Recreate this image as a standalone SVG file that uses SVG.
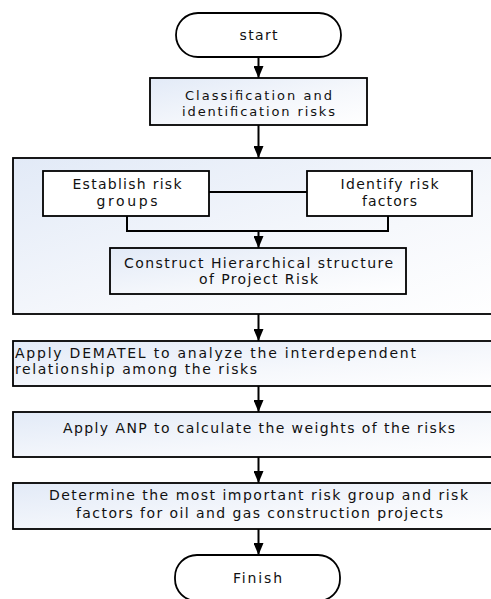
<svg xmlns="http://www.w3.org/2000/svg" width="491" height="599" viewBox="0 0 491 599">
<defs>
<linearGradient id="g" x1="0" y1="0" x2="1" y2="1">
<stop offset="0" stop-color="#e2eaf7"/>
<stop offset="0.6" stop-color="#f6f8fc"/>
<stop offset="1" stop-color="#ffffff"/>
</linearGradient>
<marker id="ah" markerWidth="12" markerHeight="10" refX="12" refY="5" orient="auto" markerUnits="userSpaceOnUse">
<path d="M0,0 L12,5 L0,10 Z" fill="#000"/>
</marker>
</defs>
<style>
.b{fill:url(#g);stroke:#000;stroke-width:1.8}
.w{fill:#fff;stroke:#000;stroke-width:1.8}
.c{fill:none;stroke:#000;stroke-width:2}
.a{fill:none;stroke:#000;stroke-width:2;marker-end:url(#ah)}
text{font-family:"DejaVu Sans","Liberation Sans",sans-serif;font-size:14px;fill:#111}
.m{text-anchor:middle}
.s{font-size:13px}
</style>
<g id="outer"><rect class="b" x="13" y="158" width="500" height="156"/></g>
<g id="start"><rect class="w" x="176" y="13" width="165" height="44" rx="22"/><text class="m" x="258.5" y="40" textLength="38">start</text></g>
<g id="classify"><rect class="b" x="150" y="78" width="217" height="47"/><text class="m s" x="258.5" y="100" textLength="147">Classification and</text><text class="m s" x="258.5" y="116" textLength="153">identification risks</text></g>
<g id="establish"><rect class="w" x="43" y="171" width="166" height="45"/><text class="m" x="127" y="189" textLength="109">Establish risk</text><text class="m" x="127" y="206" textLength="61">groups</text></g>
<g id="identify"><rect class="w" x="307" y="171" width="165" height="45"/><text class="m" x="389.5" y="189" textLength="98">Identify risk</text><text class="m" x="389.5" y="206" textLength="55">factors</text></g>
<g id="construct"><rect class="b" x="110" y="248" width="296" height="46"/><text class="m" x="258.5" y="268" textLength="269">Construct Hierarchical structure</text><text class="m" x="258.5" y="284" textLength="119">of Project Risk</text></g>
<g id="dematel"><rect class="b" x="13" y="341" width="500" height="45"/><text x="15" y="358" textLength="401">Apply DEMATEL to analyze the interdependent</text><text x="15" y="374" textLength="242">relationship among the risks</text></g>
<g id="anp"><rect class="b" x="13" y="412" width="500" height="45"/><text class="m" x="259" y="433" textLength="392">Apply ANP to calculate the weights of the risks</text></g>
<g id="determine"><rect class="b" x="13" y="483" width="500" height="46"/><text class="m" x="258.5" y="500" textLength="419">Determine the most important risk group and risk</text><text class="m" x="259.5" y="518" textLength="367">factors for oil and gas construction projects</text></g>
<g id="finish"><rect class="w" x="175" y="555" width="165" height="46" rx="22"/><text class="m" x="257.5" y="583" textLength="49">Finish</text></g>
<g id="connectors">
<path class="a" d="M258.5,57 V78"/>
<path class="a" d="M258.5,125 V158"/>
<path class="c" d="M209,192 H307"/>
<path class="c" d="M127,216 V231 H388 V216"/>
<path class="a" d="M258.5,231 V248"/>
<path class="a" d="M258.5,314 V341"/>
<path class="a" d="M258.5,386 V412"/>
<path class="a" d="M258.5,457 V483"/>
<path class="a" d="M258.5,529 V555"/>
</g>
</svg>
